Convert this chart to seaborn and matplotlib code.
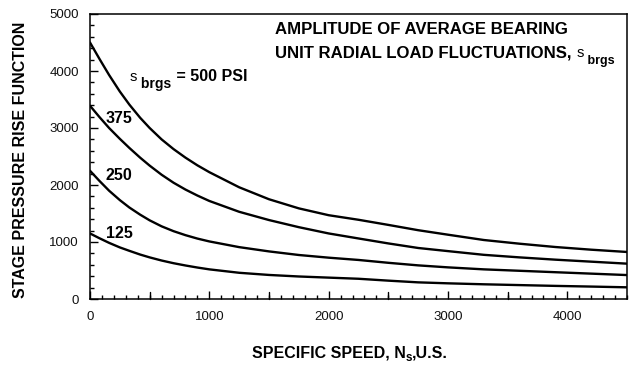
import matplotlib
matplotlib.use("Agg")
import matplotlib.pyplot as plt
from matplotlib.ticker import MultipleLocator
import pandas as pd
import seaborn as sns

# Specific speed (U.S. units) at which the curves are tabulated
specific_speed = [0, 80, 160, 250, 330, 420, 500, 600, 700, 800, 900, 1000,
                  1250, 1500, 1750, 2000, 2250, 2500, 2750, 3000, 3300, 3600,
                  3900, 4200, 4500]

# Stage pressure rise function for each bearing load fluctuation amplitude
s_500 = [4500, 4210, 3930, 3640, 3410, 3180, 3000, 2800, 2630, 2480, 2345,
         2225, 1960, 1750, 1590, 1470, 1390, 1300, 1207, 1128, 1035, 970,
         912, 865, 825]
s_375 = [3390, 3190, 3000, 2810, 2650, 2480, 2340, 2180, 2040, 1920, 1815,
         1720, 1530, 1385, 1260, 1150, 1062, 975, 895, 840, 775, 730, 690,
         655, 620]
s_250 = [2250, 2070, 1900, 1735, 1605, 1480, 1380, 1275, 1190, 1120, 1060,
         1010, 910, 835, 772, 725, 685, 635, 590, 555, 520, 495, 470, 445,
         420]
s_125 = [1150, 1065, 985, 905, 845, 780, 730, 675, 628, 588, 552, 520, 460,
         422, 395, 375, 355, 322, 292, 275, 258, 244, 230, 218, 205]

amplitudes = ["500", "375", "250", "125"]
series = [s_500, s_375, s_250, s_125]

x_ticks = [0, 1000, 2000, 3000, 4000]
y_ticks = [0, 1000, 2000, 3000, 4000, 5000]

frames = []
for amp, vals in zip(amplitudes, series):
    frames.append(pd.DataFrame({"Ns": specific_speed, "rise": vals, "amp": amp}))
df = pd.concat(frames, ignore_index=True)

sns.set_theme(style="ticks")
plt.rcParams["font.family"] = ["Liberation Sans", "DejaVu Sans"]
plt.rcParams["text.color"] = "black"

W, H = 634, 366
fig = plt.figure(figsize=(W / 100, H / 100), dpi=100)
ax = fig.add_axes([90 / W, 1 - 299 / H, 537 / W, 285 / H])

sns.lineplot(data=df, x="Ns", y="rise", hue="amp", hue_order=amplitudes,
             palette=["black"] * 4, linewidth=1.7, legend=False, ax=ax,
             estimator=None, sort=True)

ax.set_xlim(0, 4500)
ax.set_ylim(0, 5000)
ax.set_xticks(x_ticks)
ax.set_yticks(y_ticks)
ax.set_xticklabels([str(v) for v in x_ticks])
ax.set_yticklabels([str(v) for v in y_ticks])
ax.xaxis.set_minor_locator(MultipleLocator(100))
ax.yaxis.set_minor_locator(MultipleLocator(200))

ax.tick_params(axis="both", which="major", direction="in", length=6,
               width=1, color="black", labelsize=9.5, labelcolor="#111111")
ax.tick_params(axis="both", which="minor", direction="in", length=3,
               width=1, color="black")
ax.tick_params(axis="x", which="major", pad=9)
ax.tick_params(axis="y", which="major", pad=8)
for s in ax.spines.values():
    s.set_color("black")
    s.set_linewidth(1.1)

# Longer ticks every 500 on the speed axis
for xv in range(500, 4500, 1000):
    ax.plot([xv, xv], [0, 130], color="black", lw=1, clip_on=False)

ax.set_xlabel("")
ax.set_ylabel("")

renderer = fig.canvas.get_renderer()


def runs(x_px, y_px, parts):
    """Write text pieces one after another from pixel (x_px, y_px),
    measured from the top-left corner; each part is
    (text, baseline shift in px, size, weight)."""
    x = x_px
    for txt, dy, size, weight in parts:
        t = fig.text(x / W, 1 - (y_px + dy) / H, txt, ha="left",
                     va="baseline", fontsize=size, fontweight=weight,
                     color="black")
        x += t.get_window_extent(renderer).width


fig.text(21 / W, 1 - 160 / H, "STAGE PRESSURE RISE FUNCTION", rotation=90,
         ha="center", va="center", fontsize=11.5, fontweight="bold")

# x-axis title with subscript
runs(252, 357, [("SPECIFIC SPEED, N", 0, 11.5, "bold"),
                ("s", 4, 8.5, "bold"),
                (",U.S.", 0, 11.5, "bold")])

# Panel heading
runs(275, 34, [("AMPLITUDE OF AVERAGE BEARING", 0, 12.1, "bold")])
runs(275, 58, [("UNIT RADIAL LOAD FLUCTUATIONS, ", 0, 12.1, "bold"),
               ("s", -1, 10.5, "normal"),
               (" brgs", 6, 9, "bold")])

# Curve labels
runs(130, 81, [("s", 0, 10.5, "normal"),
               (" brgs", 7, 10, "bold"),
               (" = 500 PSI", 0, 11.5, "bold")])
runs(106, 123, [("375", 0, 11.5, "bold")])
runs(106, 180, [("250", 0, 11.5, "bold")])
runs(106, 238, [("125", 0, 11.5, "bold")])

fig.savefig("out.png", dpi=100)
